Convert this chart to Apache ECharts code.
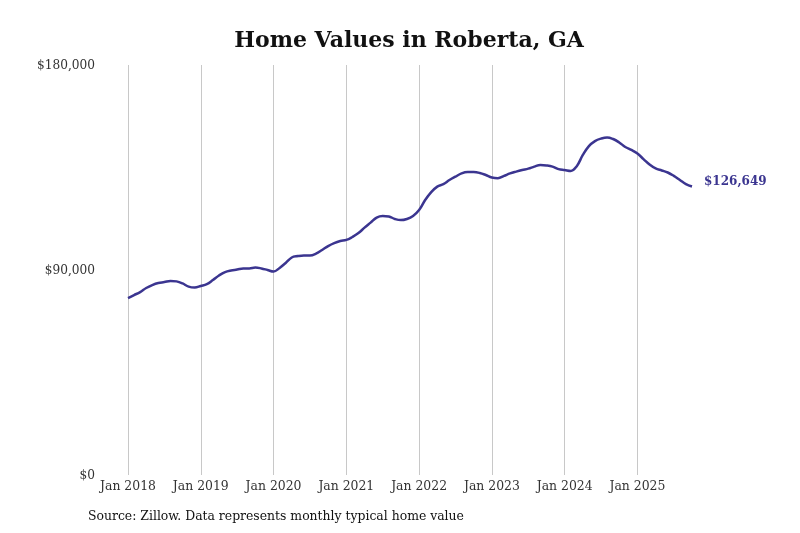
<!DOCTYPE html>
<html>
<head>
<meta charset="utf-8">
<script src="https://cdn.jsdelivr.net/npm/echarts@6/dist/echarts.min.js"></script>
<style>
  html, body { margin: 0; padding: 0; background: #fff; }
  #chart { width: 800px; height: 533px; }
</style>
</head>
<body>
<div id="chart"></div>
<script>
// 月份 Jan 2018 - Oct 2025
var months = [];
for (var y = 2018; y <= 2025; y++) {
    for (var m = 1; m <= 12; m++) {
        if (y === 2025 && m > 10) break;
        months.push(y + '-' + (m < 10 ? '0' + m : m));
    }
}
var monthNames = ['Jan', 'Feb', 'Mar', 'Apr', 'May', 'Jun', 'Jul', 'Aug', 'Sep', 'Oct', 'Nov', 'Dec'];

// 典型房价（按月）
var values2018 = [77700, 79000, 80300, 82100, 83400, 84300, 84700, 85200, 85000, 84100, 82700, 82300];
var values2019 = [83000, 83800, 85600, 87600, 89100, 89800, 90200, 90700, 90700, 91100, 90700, 90000];
var values2020 = [89300, 90900, 93100, 95500, 96100, 96400, 96400, 97200, 98800, 100500, 101800, 102700];
var values2021 = [103200, 104500, 106200, 108600, 110800, 113000, 113700, 113500, 112400, 111900, 112400, 113700];
var values2022 = [116300, 120700, 124200, 126600, 127700, 129500, 131000, 132400, 133000, 133000, 132600, 131700];
var values2023 = [130600, 130300, 131300, 132400, 133200, 133900, 134500, 135400, 136100, 135900, 135400, 134300];
var values2024 = [133900, 133500, 135600, 140500, 144400, 146600, 147700, 148200, 147500, 146000, 144000, 142700];
var values2025 = [141100, 138700, 136300, 134600, 133700, 132800, 131300, 129500, 127700, 126649];

var homeValues = [].concat(values2018, values2019, values2020, values2021,
    values2022, values2023, values2024, values2025);

var yTicks = [0, 90000, 180000];

var serif = '"DejaVu Serif Condensed", "DejaVu Serif", serif';

function money(v) {
    return '$' + Math.round(v).toString().replace(/\B(?=(\d{3})+(?!\d))/g, ',');
}

var chart = echarts.init(document.getElementById('chart'));
var option = {
    backgroundColor: '#fff',
    title: {
        text: 'Home Values in Roberta, GA',
        left: 404,
        textAlign: 'center',
        top: 25,
        textStyle: {
            fontFamily: '"DejaVu Serif"',
            fontWeight: 'bold',
            fontSize: 22,
            color: '#111'
        }
    },
    graphic: [{
        type: 'text',
        left: 88,
        top: 509,
        style: {
            text: 'Source: Zillow. Data represents monthly typical home value',
            font: '13.8px "DejaVu Serif Condensed", "DejaVu Serif", serif',
            fill: '#111'
        }
    }],
    grid: {
        left: 128,
        right: 108,
        top: 65,
        bottom: 58
    },
    xAxis: {
        type: 'category',
        boundaryGap: false,
        data: months,
        axisLine: { show: false },
        axisTick: { show: false },
        axisLabel: {
            interval: function (i) { return i % 12 === 0; },
            formatter: function (v) {
                var p = v.split('-');
                return monthNames[parseInt(p[1], 10) - 1] + ' ' + p[0];
            },
            margin: 4,
            color: '#333',
            fontFamily: serif,
            fontSize: 13.8
        },
        splitLine: {
            show: true,
            interval: function (i) { return i % 12 === 0; },
            lineStyle: { color: '#c8c8c8', width: 1 }
        }
    },
    yAxis: {
        type: 'value',
        min: yTicks[0],
        max: yTicks[2],
        interval: yTicks[1] - yTicks[0],
        axisLine: { show: false },
        axisTick: { show: false },
        splitLine: { show: false },
        axisLabel: {
            formatter: money,
            margin: 33,
            color: '#333',
            fontFamily: serif,
            fontSize: 13.5
        }
    },
    series: [{
        name: 'Home value',
        type: 'line',
        data: homeValues,
        smooth: 0.4,
        symbol: 'none',
        lineStyle: { color: '#3b3590', width: 2.5 },
        endLabel: {
            show: true,
            distance: 12,
            offset: [0, -5],
            formatter: function (p) { return money(p.value); },
            color: '#3b3590',
            fontFamily: '"DejaVu Serif"',
            fontWeight: 'bold',
            fontSize: 12
        }
    }],
    animation: false
};
chart.setOption(option);
</script>
</body>
</html>
